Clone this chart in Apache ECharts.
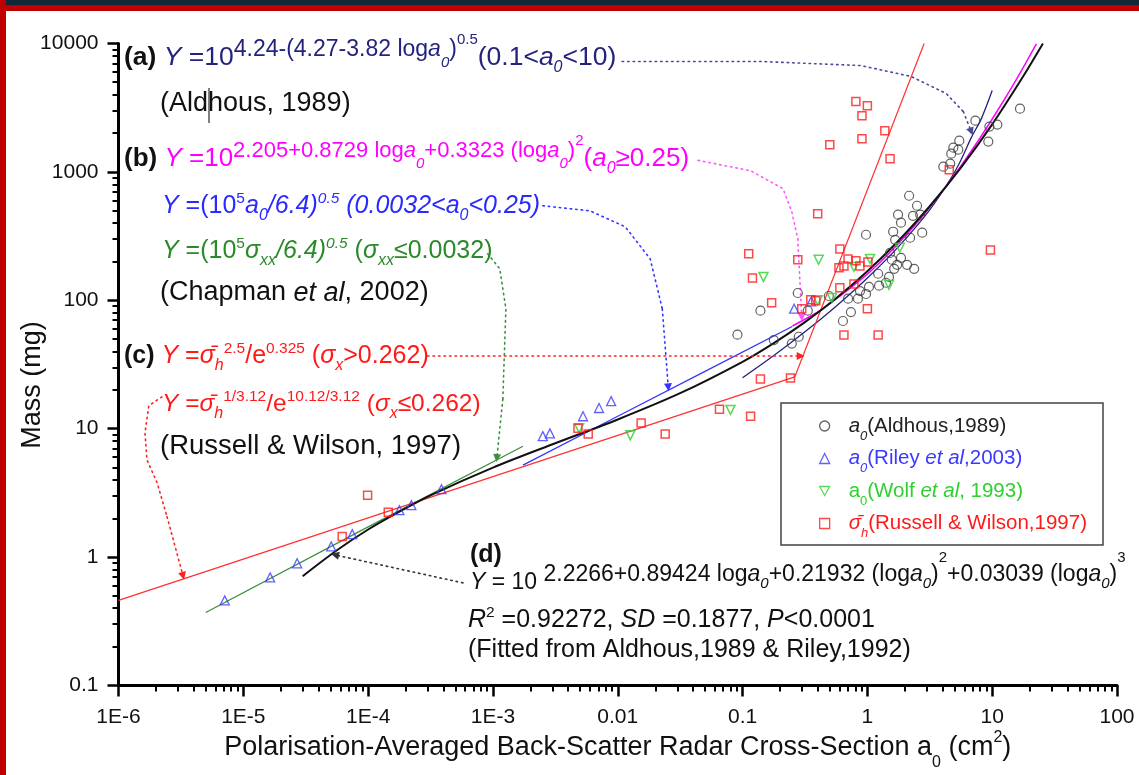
<!DOCTYPE html>
<html>
<head>
<meta charset="utf-8">
<title>Mass vs back-scatter radar cross-section</title>
<script src="https://cdn.jsdelivr.net/npm/echarts@6.0.0/dist/echarts.min.js"></script>
<style>
  html, body { margin: 0; padding: 0; background: #fff; }
  #chart { width: 1139px; height: 775px; }
</style>
</head>
<body>
<div id="chart"></div>
<script>
// --- axes ---
const X_TICKS = [1e-6, 1e-5, 1e-4, 1e-3, 0.01, 0.1, 1, 10, 100];
const X_LABELS = ['1E-6', '1E-5', '1E-4', '1E-3', '0.01', '0.1', '1', '10', '100'];
const Y_TICKS = [0.1, 1, 10, 100, 1000, 10000];
const Y_LABELS = ['0.1', '1', '10', '100', '1000', '10000'];

// --- points [a0 (cm2), mass (mg)] ---
const aldhous = [
  [16.7, 3110], [11.0, 2335], [9.5, 2255], [7.33, 2505], [9.31, 1722], [5.45, 1750], [4.88, 1545],
  [5.35, 1490], [4.70, 1387], [4.61, 1159], [4.06, 1098],
  [2.16, 652], [2.50, 545], [2.65, 464], [2.32, 455], [1.76, 464], [1.86, 402], [1.61, 342],
  [2.20, 307], [2.75, 336], [1.67, 296], [0.975, 324],
  [1.52, 234], [1.57, 207], [1.86, 214], [2.08, 189], [2.37, 176], [1.64, 176], [1.73, 189],
  [1.22, 161], [1.49, 152], [1.41, 137], [1.24, 130], [1.03, 127], [0.873, 118], [0.975, 112],
  [0.84, 103], [0.70, 103], [0.738, 81], [0.637, 69], [0.491, 108], [0.277, 114], [0.139, 83],
  [0.091, 54], [0.333, 83], [0.282, 52], [0.248, 46], [0.178, 49]
];
const riley = [
  [7.1e-6, 0.46], [1.64e-5, 0.695], [2.7e-5, 0.895], [5.06e-5, 1.21], [7.46e-5, 1.51],
  [1.78e-4, 2.32], [2.22e-4, 2.54], [3.87e-4, 3.38], [2.51e-3, 8.75], [2.86e-3, 9.2],
  [5.27e-3, 12.5], [7.08e-3, 14.5], [8.85e-3, 16.4], [0.259, 86], [0.355, 98]
];
const wolf = [
  [4.9e-3, 10.1], [0.0126, 8.9], [0.08, 14.0], [0.147, 152], [0.407, 207], [1.05, 210],
  [0.78, 182], [1.82, 257], [1.49, 132], [0.40, 100], [0.52, 104]
];
const russell = [
  [0.809, 3530], [1.0, 3280], [0.905, 2740], [1.38, 2095], [0.50, 1630], [0.905, 1810],
  [1.52, 1268], [4.53, 1040], [0.40, 472], [9.68, 247], [0.112, 230], [0.12, 149],
  [0.277, 207], [0.171, 95.5], [0.298, 85.8], [0.352, 101], [0.386, 99], [0.602, 251],
  [0.70, 210], [0.81, 203], [0.871, 185], [1.01, 199], [0.649, 185], [0.592, 179],
  [0.602, 125], [0.78, 134], [1.0, 85.8], [0.649, 53.7], [1.22, 53.7], [0.139, 24.4],
  [0.242, 24.8], [4.8e-3, 10.1], [5.8e-3, 9.1], [0.0154, 11.1], [0.024, 9.1],
  [0.0653, 14.2], [0.116, 12.5], [9.9e-5, 3.03], [1.45e-4, 2.24], [6.2e-5, 1.45]
];

// --- fitted curves ---
const fitA = [
  [0.1, 24.9], [0.178, 37.1], [0.316, 56.8], [0.562, 89.9], [1, 149], [1.778, 262],
  [3.16, 506], [4.70, 900], [5.65, 1250], [6.8, 1850], [8.19, 2600], [10, 4300]
];
const fitB = [
  [0.251, 63.1], [0.355, 75.8], [0.501, 94], [1, 160], [1.413, 220], [2.0, 314], [2.82, 462],
  [3.98, 705], [5.62, 1113], [7.94, 1820], [11.2, 3076], [15.85, 5380], [22.6, 9950]
];
const chapA = [[1.74e-3, 5.2], [0.01, 12.5], [0.05, 27.95], [0.25, 62.5]];
const chapS = [[5e-6, 0.37], [1e-4, 1.72], [1.74e-3, 7.3]];
const russFit = [[1e-6, 0.46], [0.262, 25.3], [2.85, 10000]];
const fitD = [
  [2.99e-5, 0.71], [5.62e-5, 1.13], [1e-4, 1.64], [1.78e-4, 2.26], [3.16e-4, 3.03],
  [1e-3, 4.98], [3.16e-3, 7.7], [0.01, 11.8], [0.0316, 18.9], [0.1, 33.2], [0.178, 46.4],
  [0.316, 67.6], [0.562, 103.8], [1, 168.5], [1.778, 291], [3.16, 540], [5.62, 1080],
  [10, 2345], [17.78, 5580], [25.5, 10000]
];

// --- dotted pointer paths (same data space) ---
const pathA = [[0.01084, 7245], [0.1396, 7245], [0.888, 6730], [2.24, 5535], [4.29, 4075], [5.87, 2950], [6.8, 2060]];
const pathB = [[0.044, 1230], [0.116, 1021], [0.211, 740], [0.248, 490], [0.2767, 301], [0.298, 74]];
const pathC = [[2.51e-3, 545], [6.0e-3, 497], [0.01148, 374], [0.0182, 210], [0.02275, 85.8], [0.0254, 21]];
const pathD = [[9.08e-4, 230], [1.135e-3, 176], [1.27e-3, 85.8], [1.2e-3, 17.0], [1.074e-3, 5.9]];
const pathE = [[2.99e-4, 36.8], [0.2924, 36.8]];
const pathF = [[2.23e-6, 17.7], [1.75e-6, 15.1], [1.63e-6, 9.3], [1.69e-6, 5.72], [2.04e-6, 3.79], [2.45e-6, 2.06], [3.29e-6, 0.713]];
const pathG = [[5.75e-4, 0.63], [5.43e-5, 1.04]];

// 配色
const C = {
  navy: '#23237e', magenta: '#ff00ff', blue: '#2a2aff', green: '#2a8a2a',
  red: '#ff1a1a', circle: '#3a3a3a', riley: '#3a3aff', wolf: '#2fd02f', text: '#111'
};
const FONT = "'Liberation Sans', Arial, sans-serif";

const minorTicks = (lo, hi) => {
  const out = [];
  for (let e = lo; e < hi; e++) {
    for (let k = 2; k <= 9; k++) out.push(+(k * Math.pow(10, e)).toPrecision(3));
  }
  return out;
};

// rich styles for the equations
const txtStyles = (c, m, e, eeRaise) => {
  const mk = (fs, extra) => Object.assign({ fill: c, fontSize: fs, fontFamily: FONT }, extra || {});
  return {
    b: mk(m, { fill: C.text, fontWeight: 'bold' }),
    n: mk(m), i: mk(m, { fontStyle: 'italic' }),
    s: mk(16, { padding: [20, 0, 0, 0] }), si: mk(16, { fontStyle: 'italic', padding: [20, 0, 0, 0] }),
    p: mk(15.5, { padding: [0, 0, 14, 0] }), pi: mk(15.5, { fontStyle: 'italic', padding: [0, 0, 14, 0] }),
    e: mk(e, { padding: [0, 0, 17, 0] }), ei: mk(e, { fontStyle: 'italic', padding: [0, 0, 17, 0] }),
    es: mk(15, { fontStyle: 'italic', padding: [2, 0, 0, 0] }),
    esi: mk(15, { fontStyle: 'italic', padding: [10, 0, 0, 0] }),
    ee: mk(15, { padding: [0, 0, eeRaise || 36, 0] })
  };
};

const ANNOT = [
  { x: 124, y: 58, c: C.navy, m: 26.5, t: '{b|(a) }{i|Y}{n| =10}{e|4.24-(4.27-3.82 log}{ei|a}{esi|0}{e|)}{ee|0.5}{n|(0.1<}{i|a}{si|0}{n|<10)}' },
  { x: 160, y: 104, c: C.text, m: 27, t: '{n|(Aldhous, 1989)}' },
  { x: 124, y: 159, c: C.magenta, m: 26, e: 22, t: '{b|(b) }{i|Y}{n| =10}{e|2.205+0.8729 log}{ei|a}{esi|0}{e|+0.3323 (log}{ei|a}{esi|0}{e|)}{ee|2}{n|(}{i|a}{si|0}{n|≥0.25)}' },
  { x: 162, y: 206, c: C.blue, m: 25, t: '{i|Y}{n| =(10}{p|5}{i|a}{si|0}{i|/6.4)}{pi|0.5}{i| (0.0032<a}{si|0}{i|<0.25)}' },
  { x: 162, y: 251, c: C.green, m: 25, t: '{i|Y}{n| =(10}{p|5}{i|σ}{si|xx}{i|/6.4)}{pi|0.5}{n| (}{i|σ}{si|xx}{n|≤0.0032)}' },
  { x: 160, y: 293, c: C.text, m: 27, t: '{n|(Chapman }{i|et al}{n|, 2002)}' },
  { x: 124, y: 356, c: C.red, m: 25, t: '{b|(c) }{i|Y}{n| =}{i|σ\u0304}{si|h}{p|2.5}{n|/e}{p|0.325}{n| (}{i|σ}{si|x}{n|>0.262)}' },
  { x: 162, y: 404, c: C.red, m: 24.5, t: '{i|Y}{n| =}{i|σ\u0304}{si|h}{p|1/3.12}{n|/e}{p|10.12/3.12}{n| (}{i|σ}{si|x}{n|≤0.262)}' },
  { x: 160, y: 446, c: C.text, m: 27.5, t: '{n|(Russell & Wilson, 1997)}' },
  { x: 470, y: 555, c: C.text, m: 25, t: '{b|(d)}' },
  { x: 470, y: 583, c: C.text, m: 23, e: 23, eeRaise: 50, t: '{i|Y}{n| = 10}{e| 2.2266+0.89424 log}{ei|a}{es|0}{e|+0.21932 (log}{ei|a}{es|0}{e|)}{ee|2}{e|+0.03039 (log}{ei|a}{es|0}{e|)}{ee|3}' },
  { x: 468, y: 620, c: C.text, m: 25, t: '{i|R}{p|2}{n| =0.92272, }{i|SD}{n| =0.1877, }{i|P}{n|<0.0001}' },
  { x: 468, y: 650, c: C.text, m: 25, t: '{n|(Fitted from Aldhous,1989 & Riley,1992)}' }
];

const LEGEND_TEXT = {
  Aldhous: '{i|a}{s|0}{n|(Aldhous,1989)}',
  Riley: '{i|a}{s|0}{n|(Riley }{i|et al}{n|,2003)}',
  Wolf: '{n|a}{su|0}{n|(Wolf }{i|et al}{n|, 1993)}',
  Russell: '{i|σ\u0304}{s|h}{n|(Russell & Wilson,1997)}'
};

const chart = echarts.init(document.getElementById('chart'));

const majorAxis = (min, max, ticks, labels, pos, margin, extra) => Object.assign({
  type: 'log', logBase: 10, min, max, position: pos,
  axisLine: { show: true, onZero: false, lineStyle: { color: '#000', width: 3 } },
  axisTick: { show: true, customValues: ticks, length: 11, lineStyle: { color: '#000', width: 2.5 } },
  axisLabel: {
    customValues: ticks, margin,
    formatter: v => labels[Math.round(Math.log10(v) - Math.log10(min))],
    color: C.text, fontFamily: FONT, fontSize: 21
  },
  splitLine: { show: false }
}, extra);

const minorAxis = (min, max, pos, lo, hi) => ({
  type: 'log', logBase: 10, min, max, position: pos,
  axisLine: { show: false },
  axisTick: { show: true, customValues: minorTicks(lo, hi), length: 6, lineStyle: { color: '#000', width: 2 } },
  axisLabel: { show: false },
  splitLine: { show: false }
});

const curve = (name, data, color, width, smooth) => ({
  name, type: 'line', data, showSymbol: false, symbol: 'none', smooth: smooth ? 0.3 : false,
  silent: true, z: 3, lineStyle: { color, width }
});

// dotted path + arrow head on its last segment
const pointer = (coords, color) => {
  const lineStyle = { color, width: 1.6, type: [1.5, 4], cap: 'round', opacity: 1 };
  const n = coords.length;
  const out = [];
  if (n > 2) {
    out.push({
      type: 'lines', coordinateSystem: 'cartesian2d', polyline: true, silent: true, z: 4,
      lineStyle, data: [{ coords: coords.slice(0, n - 1) }]
    });
  }
  out.push({
    type: 'lines', coordinateSystem: 'cartesian2d', silent: true, z: 4,
    symbol: ['none', 'triangle'], symbolSize: 8,
    lineStyle, data: [{ coords: [coords[n - 2], coords[n - 1]] }]
  });
  return out;
};

const dots = (name, data, symbol, size, color, bw) => ({
  name, type: 'scatter', data, symbol, symbolSize: size, z: 5,
  itemStyle: { color: 'rgba(0,0,0,0)', borderColor: color, borderWidth: bw }
});

const option = {
  backgroundColor: '#fff',
  animation: false,
  grid: { left: 118.5, right: 22, top: 43.5, bottom: 89.5, outerBoundsMode: 'none', containLabel: false },
  xAxis: [
    majorAxis(1e-6, 100, X_TICKS, X_LABELS, 'bottom', 21, {
      name: '{n|Polarisation-Averaged Back-Scatter Radar Cross-Section a}{s|0}{n| (cm}{p|2}{n|)}',
      nameLocation: 'middle', nameGap: 39, nameMoveOverlap: false,
      nameTextStyle: {
        rich: {
          n: { fontSize: 27, fontFamily: FONT, color: C.text },
          s: { fontSize: 16, fontFamily: FONT, color: C.text, padding: [30, 0, 0, 0] },
          p: { fontSize: 16, fontFamily: FONT, color: C.text, padding: [0, 0, 20, 0] }
        }
      }
    }),
    minorAxis(1e-6, 100, 'bottom', -6, 2)
  ],
  yAxis: [
    majorAxis(0.1, 10000, Y_TICKS, Y_LABELS, 'left', 20, {
      name: 'Mass (mg)', nameLocation: 'middle', nameRotate: 90, nameGap: 72, nameMoveOverlap: false,
      nameTextStyle: { fontSize: 27, fontFamily: FONT, color: C.text, padding: [0, 41, 0, 0] }
    }),
    minorAxis(0.1, 10000, 'left', -1, 4)
  ],
  legend: {
    orient: 'vertical', left: 819, top: 415.5, padding: 0,
    itemWidth: 10, itemHeight: 10, itemGap: 5.5, selectedMode: false,
    itemStyle: { borderWidth: 1.3 },
    data: [
      { name: 'Aldhous', textStyle: { color: '#222' } },
      { name: 'Riley', textStyle: { color: C.riley } },
      { name: 'Wolf', textStyle: { color: C.wolf } },
      { name: 'Russell', textStyle: { color: C.red } }
    ],
    formatter: name => LEGEND_TEXT[name],
    textStyle: {
      padding: [0, 0, 0, 14],
      rich: {
        n: { fontSize: 20.5, fontFamily: FONT },
        i: { fontSize: 20.5, fontFamily: FONT, fontStyle: 'italic' },
        s: { fontSize: 13, fontFamily: FONT, fontStyle: 'italic', padding: [20, 0, 0, 0] },
        su: { fontSize: 13, fontFamily: FONT, padding: [20, 0, 0, 0] }
      }
    }
  },
  graphic: [
    { type: 'rect', shape: { x: 0, y: 0, width: 1139, height: 5 }, style: { fill: '#10293a' }, silent: true },
    { type: 'rect', shape: { x: 0, y: 5, width: 1139, height: 6 }, style: { fill: '#c00000' }, silent: true },
    { type: 'rect', shape: { x: 0, y: 0, width: 6, height: 775 }, style: { fill: '#c00000' }, silent: true },
    { type: 'rect', shape: { x: 781, y: 403, width: 322, height: 142 }, style: { fill: 'none', stroke: '#444', lineWidth: 1.5 }, silent: true, z: 1 },
    // text cursor left in the original
    { type: 'line', shape: { x1: 209, y1: 88, x2: 209, y2: 123 }, style: { stroke: '#000', lineWidth: 1 }, silent: true },
    ...ANNOT.map(a => ({
      type: 'text', x: a.x, y: a.y, silent: true, z: 100,
      style: {
        text: a.t, align: 'left', verticalAlign: 'middle', fill: a.c, fontFamily: FONT,
        rich: txtStyles(a.c, a.m || 26.5, a.e || 23, a.eeRaise)
      }
    }))
  ],
  series: [
    curve('fitA', fitA, C.navy, 1.3, true),
    curve('fitB', fitB, C.magenta, 1.5, true),
    curve('chapA', chapA, '#3535ff', 1.3, false),
    curve('chapS', chapS, '#3d8f3d', 1.3, false),
    curve('russFit', russFit, '#ff3030', 1.2, false),
    curve('fitD', fitD, '#111', 2, true),
    ...pointer(pathA, '#4a4a9a'),
    ...pointer(pathB, '#ff55ff'),
    ...pointer(pathC, '#3535ff'),
    ...pointer(pathD, '#3d8f3d'),
    ...pointer(pathE, '#ff2020'),
    ...pointer(pathF, '#ff2020'),
    ...pointer(pathG, '#333'),
    dots('Aldhous', aldhous, 'circle', 9, C.circle, 1.2),
    dots('Riley', riley, 'triangle', 9, C.riley, 1.3),
    dots('Wolf', wolf, 'path://M0,0 L10,0 L5,9 Z', 9, C.wolf, 1.5),
    dots('Russell', russell, 'rect', 8, C.red, 1.5)
  ]
};

chart.setOption(option);
window.addEventListener('resize', () => chart.resize());
</script>
</body>
</html>
